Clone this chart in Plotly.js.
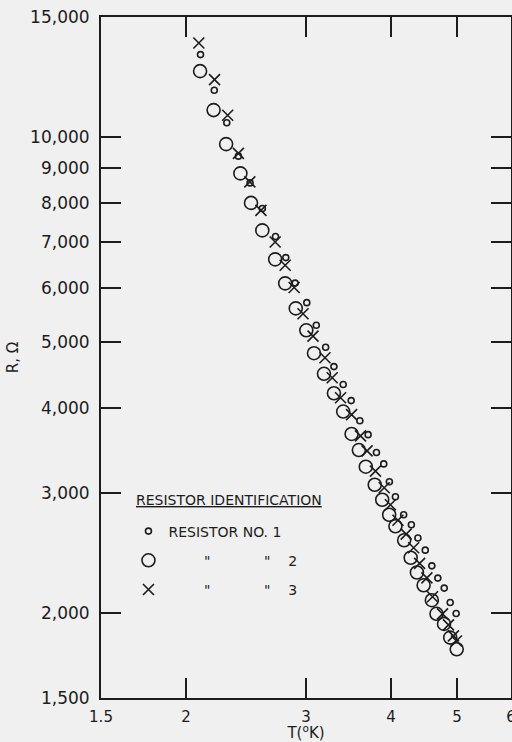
<!DOCTYPE html>
<html>
<head>
<meta charset="utf-8">
<script src="https://cdn.plot.ly/plotly-3.0.1.min.js"></script>
<style>
  html, body { margin: 0; padding: 0; background: #f0f0f0; }
  #chart { width: 512px; height: 742px; }
</style>
</head>
<body>
<div id="chart"></div>
<script>
// Resistor No. 1 (small circles)
const t1 = [2.10, 2.20, 2.295, 2.387, 2.483, 2.588, 2.706, 2.802, 2.892, 3.008, 3.106, 3.206, 3.297, 3.402, 3.495, 3.599, 3.701, 3.807, 3.902, 3.977, 4.059, 4.174, 4.284, 4.380, 4.490, 4.591, 4.685, 4.787, 4.885, 4.984];
const r1 = [13210, 11710, 10490, 9370, 8560, 7850, 7140, 6650, 6100, 5710, 5290, 4910, 4600, 4330, 4100, 3830, 3654, 3440, 3310, 3117, 2962, 2787, 2694, 2576, 2473, 2345, 2250, 2175, 2072, 1996];
// Resistor No. 2 (large circles)
const t2 = [2.097, 2.195, 2.290, 2.403, 2.491, 2.588, 2.703, 2.796, 2.898, 3.003, 3.082, 3.188, 3.297, 3.402, 3.500, 3.587, 3.672, 3.785, 3.882, 3.974, 4.059, 4.181, 4.274, 4.365, 4.465, 4.591, 4.664, 4.784, 4.885, 4.994];
const r2 = [12490, 10950, 9760, 8840, 8000, 7290, 6610, 6095, 5600, 5200, 4813, 4489, 4203, 3951, 3663, 3469, 3279, 3085, 2932, 2787, 2681, 2557, 2410, 2293, 2196, 2088, 1994, 1927, 1840, 1769];
// Resistor No. 3 (crosses)
const t3 = [2.088, 2.202, 2.302, 2.387, 2.481, 2.576, 2.703, 2.796, 2.882, 2.970, 3.072, 3.199, 3.278, 3.372, 3.500, 3.607, 3.688, 3.794, 3.908, 3.991, 4.094, 4.209, 4.317, 4.405, 4.515, 4.602, 4.760, 4.857, 4.939, 4.989];
const r3 = [13740, 12140, 10760, 9460, 8590, 7800, 7010, 6480, 6010, 5500, 5100, 4740, 4430, 4140, 3910, 3640, 3460, 3230, 3054, 2883, 2736, 2611, 2493, 2365, 2252, 2112, 1994, 1921, 1851, 1819];

const NB = "\u00a0";
const seriesNames = ["RESISTOR NO. 1",
  NB.repeat(8) + "\"" + NB.repeat(12) + "\"" + NB.repeat(4) + "2",
  NB.repeat(8) + "\"" + NB.repeat(12) + "\"" + NB.repeat(4) + "3"];
const legendTitle = "RESISTOR IDENTIFICATION";

const xTicks = [1.5, 2, 3, 4, 5, 6];
const xTickText = ["1.5", "2", "3", "4", "5", "6"];
const yTicks = [1500, 2000, 3000, 4000, 5000, 6000, 7000, 8000, 9000, 10000, 15000];
const yTickText = ["1,500", "2,000", "3,000", "4,000", "5,000", "6,000", "7,000", "8,000", "9,000", "10,000", "15,000"];

const ink = "#1c1c1c";
const font = "DejaVu Sans";

const traces = [
  { x: t1, y: r1, name: seriesNames[0], legendgroup: "a", type: "scatter", mode: "markers",
    marker: { symbol: "circle-open", size: 6, color: ink, line: { width: 1.6, color: ink } } },
  { x: t2, y: r2, name: seriesNames[1], legendgroup: "b", type: "scatter", mode: "markers",
    marker: { symbol: "circle-open", size: 13, color: ink, line: { width: 1.6, color: ink } } },
  { x: t3, y: r3, name: seriesNames[2], legendgroup: "c", type: "scatter", mode: "markers",
    marker: { symbol: "x-thin-open", size: 11, color: ink, line: { width: 1.6, color: ink } } }
];

const axisCommon = {
  type: "log",
  showgrid: false,
  zeroline: false,
  showline: true,
  linecolor: ink,
  linewidth: 2,
  mirror: "ticks",
  ticks: "inside",
  ticklen: 20,
  tickwidth: 2,
  tickcolor: ink,
  layer: "above traces",
  tickfont: { family: font, size: 15, color: ink }
};

const layout = {
  width: 512,
  height: 742,
  margin: { l: 101, r: 1, t: 17, b: 44 },
  paper_bgcolor: "#f0f0f0",
  plot_bgcolor: "#f0f0f0",
  showlegend: true,
  legend: {
    x: 0.067, xanchor: "left",
    y: 0.268, yanchor: "top",
    bgcolor: "rgba(0,0,0,0)",
    borderwidth: 0,
    tracegroupgap: 8,
    font: { family: font, size: 14, color: ink }
  },
  annotations: [
    { xref: "paper", yref: "paper", x: 0.0805, y: 0.2907, xanchor: "left", yanchor: "middle",
      text: "<u>" + legendTitle + "</u>", showarrow: false, font: { family: font, size: 14, color: ink } }
  ],
  xaxis: Object.assign({}, axisCommon, {
    range: [Math.log10(1.5), Math.log10(6)],
    tickvals: xTicks,
    ticktext: xTickText,
    ticklabelstandoff: 4,
    ticklabeloverflow: "allow",
    title: { text: "T(<sup>o</sup>K)", font: { family: font, size: 15, color: ink }, standoff: 13 }
  }),
  yaxis: Object.assign({}, axisCommon, {
    range: [Math.log10(1500), Math.log10(15000)],
    tickvals: yTicks,
    ticktext: yTickText,
    ticklabelstandoff: 6,
    tickfont: { family: font, size: 17, color: ink },
    title: { text: "R, \u03a9", font: { family: font, size: 15, color: ink }, standoff: 8 }
  })
};

Plotly.newPlot("chart", traces, layout, { displayModeBar: false, staticPlot: true });
</script>
</body>
</html>
